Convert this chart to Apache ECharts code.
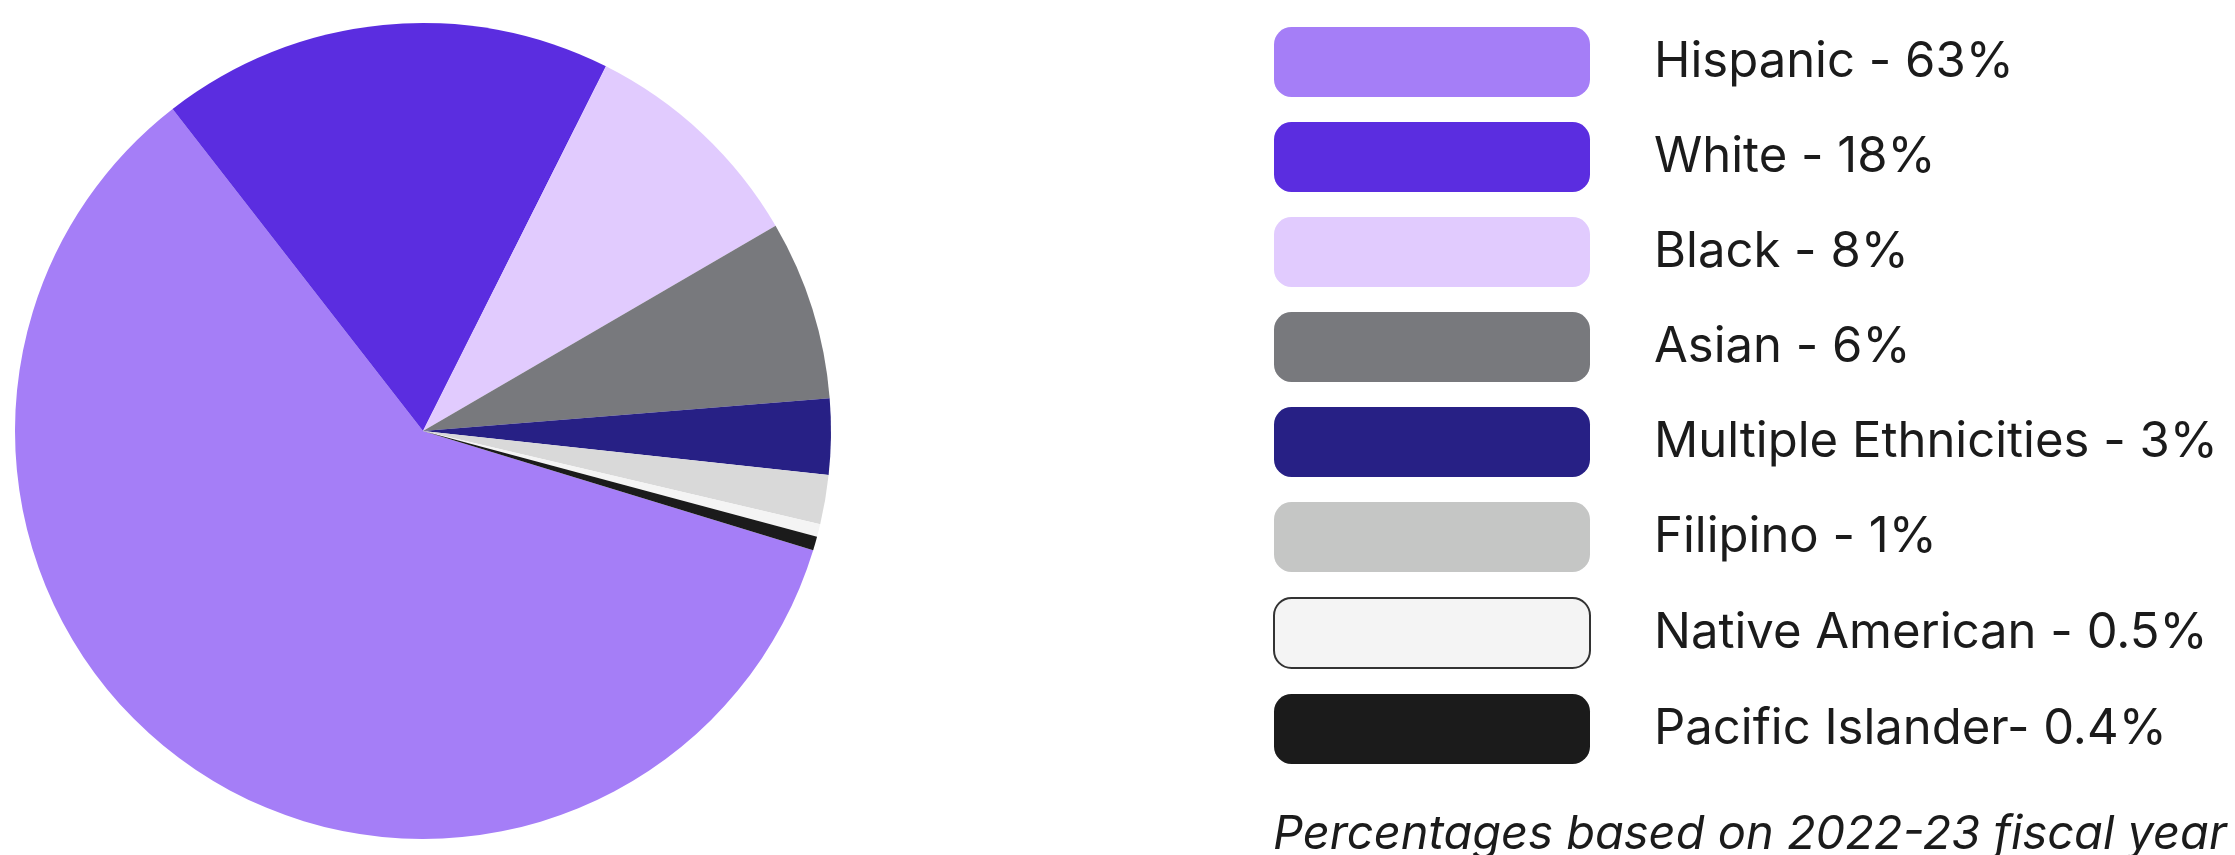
<!DOCTYPE html>
<html><head><meta charset="utf-8">
<script src="https://cdn.jsdelivr.net/npm/echarts@6/dist/echarts.min.js"></script>
<style>html,body{margin:0;padding:0;background:#fff}#c{width:2235px;height:855px}</style>
</head><body><div id="c"></div>
<script>
const categories = ['Hispanic','White','Black','Asian','Multiple Ethnicities','Filipino','Native American','Pacific Islander'];
const sliceValues = [59.7, 17.9, 9.2, 7.1, 3.0, 1.95, 0.5, 0.55];
const legendLabels = ['Hispanic - 63%','White - 18%','Black - 8%','Asian - 6%','Multiple Ethnicities - 3%','Filipino - 1%','Native American - 0.5%','Pacific Islander- 0.4%'];
const sliceColors = ['#a57ef7','#5b2de0','#e1cbfe','#78797d','#272085','#d9d9d9','#f4f4f4','#1b1b1b'];
const legendColors = ['#a57ef7','#5b2de0','#e1cbfe','#78797d','#272085','#c5c6c5','#f4f4f4','#1b1b1b'];
const footnote = 'Percentages based on 2022-23 fiscal year';

const FONT = 'Inter';
const chart = echarts.init(document.getElementById('c'));
chart.setOption({
  animation: false,
  title: {
    text: footnote, left: 1268, top: 806,
    textStyle: {fontFamily: FONT, fontStyle: 'italic', fontWeight: 'normal', fontSize: 47, color: '#1b1b1b'}
  },
  legend: {
    orient: 'vertical', left: 1273, top: 27, padding: 0,
    itemWidth: 316, itemHeight: 70, itemGap: 25, icon: 'roundRect',
    selectedMode: false,
    data: categories.map((c, i) => ({
      name: c,
      itemStyle: {color: legendColors[i], borderColor: i === 6 ? '#333' : legendColors[i], borderWidth: i === 6 ? 2 : 0}
    })),
    formatter: name => legendLabels[categories.indexOf(name)],
    textStyle: {fontFamily: FONT, fontSize: 49, color: '#1b1b1b', padding: [0, 0, 0, 59]}
  },
  series: [{
    type: 'pie',
    center: [423, 431], radius: 408,
    startAngle: -17, clockwise: true,
    avoidLabelOverlap: false,
    label: {show: false}, labelLine: {show: false},
    emphasis: {disabled: true},
    itemStyle: {borderWidth: 0},
    data: categories.map((c, i) => ({name: c, value: sliceValues[i], itemStyle: {color: sliceColors[i]}}))
  }]
});
</script></body></html>
